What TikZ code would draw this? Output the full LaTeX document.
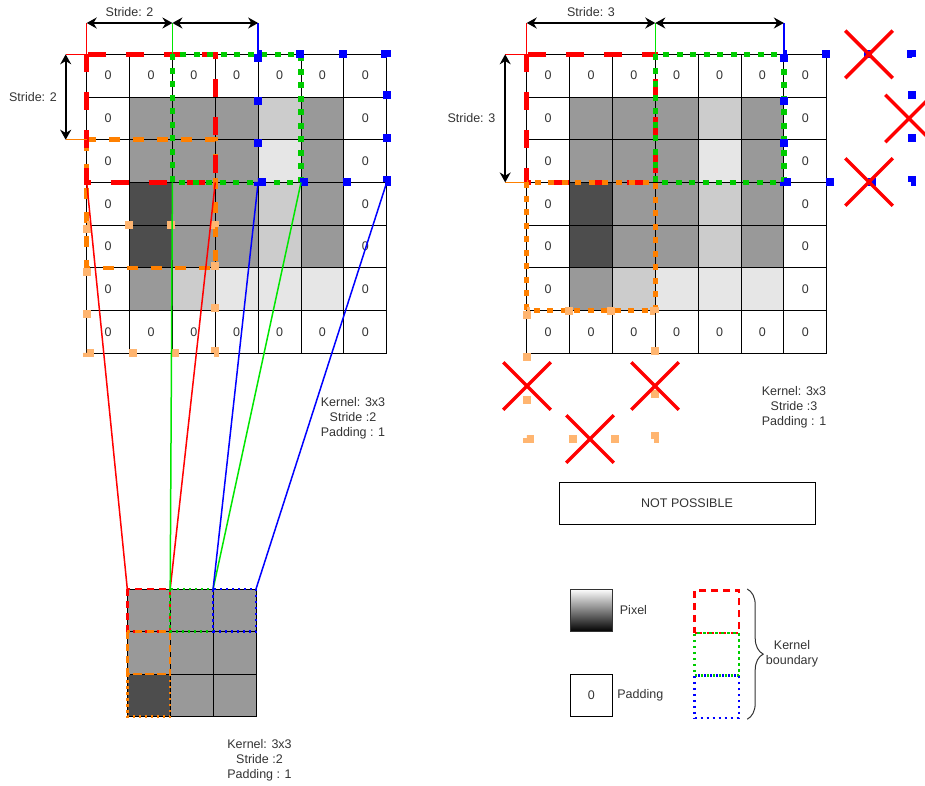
\documentclass[tikz,border=0pt]{standalone}
\usepackage{fontspec}
\setmainfont{Liberation Sans}
\usetikzlibrary{arrows.meta,shapes.misc,decorations.pathreplacing}

\definecolor{cG}{HTML}{999999}
\definecolor{cC}{HTML}{CCCCCC}
\definecolor{cE}{HTML}{E6E6E6}
\definecolor{cD}{HTML}{4D4D4D}
\definecolor{cW}{HTML}{FFFFFF}
\definecolor{kred}{HTML}{FF0000}
\definecolor{kgreen}{HTML}{00CC00}
\definecolor{lgreen}{HTML}{00E600}
\definecolor{kblue}{HTML}{0000FF}
\definecolor{korange}{HTML}{FF8000}
\definecolor{klight}{HTML}{FFB570}
\definecolor{ink}{HTML}{333333}

% text printed inside a cell, by fill code
\def\celltW{0}\def\celltG{}\def\celltC{}\def\celltE{}\def\celltD{}

\begin{document}
\begin{tikzpicture}[x=1pt,y=-1pt,
  font=\fontsize{12.5}{15}\selectfont, text=ink,
  cell/.style={draw=black, line width=0.9pt, minimum width=42.86pt,
    minimum height=42.71pt, inner sep=0pt, outer sep=0pt, anchor=north west},
  ocell/.style={cell, minimum width=42.9pt, minimum height=42.57pt},
  bigdash/.style={line width=5pt, dash pattern=on 18pt off 20pt},
  middash/.style={line width=4.5pt, dash pattern=on 11pt off 13pt},
  bigdot/.style={line width=5.5pt, dash pattern=on 6pt off 7.5pt},
  sparse/.style={line width=8pt, dash pattern=on 8pt off 34.5pt},
  smalldash/.style={line width=2.5pt, dash pattern=on 7pt off 5pt},
  smalldot/.style={line width=2.5pt, dash pattern=on 2.5pt off 3.5pt},
  guide/.style={line width=1.5pt},
  link/.style={line width=1.5pt},
  stride/.style={draw=black, line width=1.8pt,
    {Stealth[length=10pt,width=11pt]}-{Stealth[length=10pt,width=11pt]}},
  xmark/.style={cross out, draw=kred, line width=3.5pt, minimum size=44pt,
    inner sep=0pt},
  lbl/.style={inner sep=0pt, align=center},
]
\useasboundingbox (0,0) rectangle (925,785);

% ---------- the two padded 7x7 inputs ----------
\foreach \gname/\gx in {L/86.7, R/526.7}{
  \foreach \r/\codes in {0/{W,W,W,W,W,W,W}, 1/{W,G,G,G,C,G,W},
      2/{W,G,G,G,E,G,W}, 3/{W,D,G,G,C,G,W}, 4/{W,D,G,G,C,G,W},
      5/{W,G,C,E,E,E,W}, 6/{W,W,W,W,W,W,W}}{
    \foreach \k [count=\c from 0] in \codes {
      \node[cell, fill=c\k] (\gname-\r-\c) at ({\gx+\c*42.86},{54.3+\r*42.71})
        {\csname cellt\k\endcsname};
    }
  }
}

% ---------- the 3x3 output ----------
\foreach \r/\codes in {0/{G,G,G}, 1/{G,G,G}, 2/{D,G,G}}{
  \foreach \k [count=\c from 0] in \codes {
    \node[ocell, fill=c\k] (O-\r-\c) at ({127.3+\c*42.9},{589+\r*42.57}) {};
  }
}

% ---------- kernel positions, stride 2 ----------
\draw[middash, draw=korange] (L-2-0.north west) rectangle (L-4-2.south east);
\draw[bigdash, draw=kred] (L-0-0.north west) rectangle (L-2-2.south east);
\draw[bigdot, draw=kgreen] (L-0-2.north west) rectangle (L-2-4.south east);
\draw[sparse, draw=kblue] (L-0-4.north west) rectangle (L-2-6.south east);
\draw[sparse, draw=klight] (L-4-0.north west) rectangle (L-6-2.south east);

% ---------- kernel positions, stride 3 ----------
\draw[bigdash, draw=kred] (R-0-0.north west) rectangle (R-2-2.south east);
\draw[bigdot, draw=korange] (R-3-0.north west) rectangle (R-5-2.south east);
\draw[bigdot, draw=kgreen] (R-0-3.north west) rectangle (R-2-5.south east);
\draw[sparse, draw=kblue] (R-0-6.north west) rectangle +(128.6,128.1);
\draw[sparse, draw=klight] (R-6-0.north west) rectangle +(128.6,128.1);

% ---------- output cells produced by each kernel ----------
\draw[smalldash, draw=kred] (O-0-0.north west) rectangle (O-0-0.south east);
\draw[smalldot, draw=kgreen] (O-0-1.north west) rectangle (O-0-1.south east);
\draw[smalldot, draw=kblue] (O-0-2.north west) rectangle (O-0-2.south east);
\draw[smalldash, draw=korange] (O-1-0.north west) rectangle (O-1-0.south east);
\draw[smalldot, draw=korange] (O-2-0.north west) rectangle (O-2-0.south east);

% ---------- links from kernels to output cells ----------
\draw[link, kred] (L-2-0.south west) -- (O-0-0.north west);
\draw[link, kred] (L-2-2.south east) -- (O-0-0.north east);
\draw[link, lgreen] (L-2-2.south west) -- (O-0-1.north west);
\draw[link, lgreen] (L-2-4.south east) -- (O-0-1.north east);
\draw[link, kblue] (L-2-4.south west) -- (O-0-2.north west);
\draw[link, kblue] (L-2-6.south east) -- (O-0-2.north east);

% ---------- stride markers, left ----------
\coordinate (LtA) at ([yshift=31.3pt]L-0-0.north west);
\coordinate (LtB) at ([yshift=31.3pt]L-0-2.north west);
\coordinate (LtC) at ([yshift=31.3pt]L-0-4.north west);
\coordinate (LsA) at ([xshift=-21pt]L-0-0.north west);
\coordinate (LsB) at ([xshift=-21pt]L-2-0.north west);
\draw[guide, kred] (LtA) -- (L-0-0.north west) -- (LsA);
\draw[guide, lgreen] (LtB) -- (L-0-2.north west);
\draw[guide, kblue] (LtC) -- (L-0-4.north west);
\draw[guide, korange] (LsB) -- (L-2-0.north west);
\draw[stride] (LtA) -- node[lbl, yshift=10.5pt] {Stride: 2} (LtB);
\draw[stride] (LtB) -- (LtC);
\draw[stride] (LsA) -- node[lbl, anchor=east, xshift=-8pt] {Stride: 2} (LsB);

% ---------- stride markers, right ----------
\coordinate (RtA) at ([yshift=31.3pt]R-0-0.north west);
\coordinate (RtB) at ([yshift=31.3pt]R-0-3.north west);
\coordinate (RtC) at ([yshift=31.3pt]R-0-6.north west);
\coordinate (RsA) at ([xshift=-21.5pt]R-0-0.north west);
\coordinate (RsB) at ([xshift=-21.5pt]R-3-0.north west);
\draw[guide, kred] (RtA) -- (R-0-0.north west) -- (RsA);
\draw[guide, lgreen] (RtB) -- (R-0-3.north west);
\draw[guide, kblue] (RtC) -- (R-0-6.north west);
\draw[guide, korange] (RsB) -- (R-3-0.north west);
\draw[stride] (RtA) -- node[lbl, yshift=10.5pt] {Stride: 3} (RtB);
\draw[stride] (RtB) -- (RtC);
\draw[stride] (RsA) -- node[lbl, anchor=east, xshift=-9pt] {Stride: 3} (RsB);

% ---------- kernel positions that fall outside the padded input ----------
\node[xmark] (xa) at (527,386) {};
\node[xmark] (xb) at (655,386) {};
\node[xmark] (xc) at (590,439) {};
\node[xmark] (xd) at (869,54.3) {};
\node[xmark] (xe) at (909,118.5) {};
\node[xmark] (xf) at (869,182) {};

% ---------- captions ----------
\node[lbl] (capL) at (353,418) {Kernel: 3x3\\Stride :2\\Padding : 1};
\node[lbl] (capO) at (259.5,760) {Kernel: 3x3\\Stride :2\\Padding : 1};
\node[lbl] (capR) at (794,407.5) {Kernel: 3x3\\Stride :3\\Padding : 1};
\node[draw=black, line width=1pt, minimum width=256pt, minimum height=42pt]
  (np) at (687,503) {NOT POSSIBLE};

% ---------- legend ----------
\node[cell, draw=ink, top color=white, bottom color=black,
  minimum width=42.7pt, minimum height=42.7pt] (pix) at (570,589) {};
\node[lbl, anchor=west] (pixt) at ([xshift=7pt]pix.east) {Pixel};
\node[cell, fill=white, minimum width=42.7pt, minimum height=42.2pt]
  (pad) at (570,674.5) {0};
\node[lbl, anchor=west] (padt) at ([xshift=4.5pt]pad.east) {Padding};

\node[smalldash, draw=kred, minimum width=44.4pt, minimum height=42.7pt,
  inner sep=0pt, anchor=north west] (kb1) at (693.3,589) {};
\node[smalldot, draw=kgreen, minimum width=44.4pt, minimum height=42.3pt,
  inner sep=0pt, anchor=north west] (kb2) at (693.3,631.7) {};
\node[smalldot, draw=kblue, minimum width=44.4pt, minimum height=42.7pt,
  inner sep=0pt, anchor=north west] (kb3) at (693.3,674) {};
\draw[ink, line width=1pt, decorate, decoration={brace, amplitude=16pt}]
  ([xshift=7pt]kb1.north east) -- ([xshift=7pt]kb3.south east);
\node[lbl] (kbt) at (792,653.7) {Kernel\\boundary};
\end{tikzpicture}
\end{document}
